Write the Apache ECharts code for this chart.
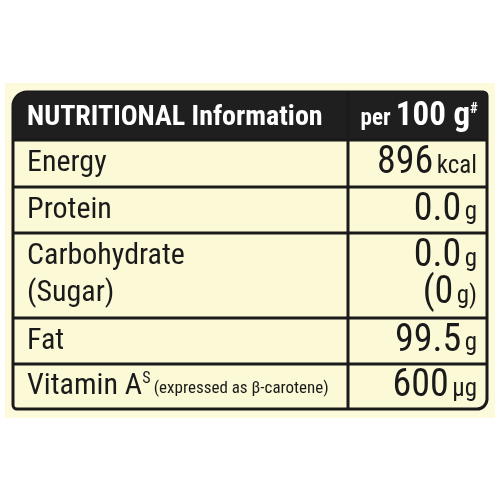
<!DOCTYPE html>
<html><head><meta charset="utf-8">
<script src="https://cdn.jsdelivr.net/npm/echarts@6/dist/echarts.min.js"></script>
<style>html,body{margin:0;background:#fff}#c{width:500px;height:500px}</style>
</head><body><div id="c"></div>
<script>
var headerLeft = 'NUTRITIONAL Information';
var headerRight = ['per ', '100 g', '#'];
var nutrients = [['Energy'], ['Protein'], ['Carbohydrate', '(Sugar)'], ['Fat'], ['Vitamin A']];
var amounts = [[['896', 'kcal']], [['0.0', 'g']], [['0.0', 'g'], ['(0', 'g)']], [['99.5', 'g']], [['600', 'µg']]];

var chart = echarts.init(document.getElementById('c'));
var F = '"Liberation Sans Narrow", "Roboto Condensed", Arial Narrow, sans-serif';
var L = 13, R = 487, T = 92, B = 409, D = 348;
var rowEdges = [140, 187, 233, 318, 364, 409];
var g = [];
g.push({type: 'rect', shape: {x: 5, y: 83, width: 490, height: 335}, style: {fill: '#fcfadb'}});
g.push({type: 'rect', shape: {x: L, y: T, width: R - L, height: B - T, r: [14, 4, 10, 4]}, style: {fill: '#fcf9d6', stroke: '#1a1a1a', lineWidth: 3}});
g.push({type: 'rect', shape: {x: L, y: T, width: R - L, height: rowEdges[0] - T, r: [14, 4, 0, 0]}, style: {fill: '#1f1f1f'}});
g.push({type: 'text', x: 27, y: 118, style: {text: headerLeft, font: 'bold 28px ' + F, fill: '#fff', verticalAlign: 'middle'}});
g.push({type: 'text', x: 478, y: 117, style: {
  text: '{a|' + headerRight[0] + '}{b|' + headerRight[1] + '}{s|' + headerRight[2] + '}',
  align: 'right', verticalAlign: 'middle',
  rich: {a: {font: 'bold 23px ' + F, fill: '#fff', padding: [4, 0, 0, 0]}, b: {font: 'bold 33px ' + F, fill: '#fff'}, s: {font: 'bold 15px ' + F, fill: '#fff', padding: [0, 0, 16, 0]}}
}});
g.push({type: 'line', shape: {x1: D, y1: T, x2: D, y2: B}, style: {stroke: '#1a1a1a', lineWidth: 3}});
for (var i = 0; i < rowEdges.length - 1; i++) {
  g.push({type: 'line', shape: {x1: L, y1: rowEdges[i], x2: R, y2: rowEdges[i]}, style: {stroke: '#1a1a1a', lineWidth: 3}});
  var rowTop = rowEdges[i], n = nutrients[i].length;
  var h = rowEdges[i + 1] - rowTop;
  for (var j = 0; j < n; j++) {
    var cy = n === 1 ? rowTop + h / 2 : rowTop + h * (0.28 + 0.43 * j);
    var txt = nutrients[i][j];
    if (i === 4) {
      g.push({type: 'text', x: 27, y: cy, style: {
        text: '{m|' + txt + '}{s|S} {e|(expressed as β-carotene)}', verticalAlign: 'middle',
        rich: {m: {font: '30px ' + F, fill: '#1a1a1a'}, s: {font: '16px ' + F, fill: '#1a1a1a', padding: [0, 0, 16, 0]}, e: {font: '17px ' + F, fill: '#1a1a1a', padding: [4, 0, 0, 0]}}
      }});
    } else {
      g.push({type: 'text', x: 27, y: cy, style: {text: txt, font: '30px ' + F, fill: '#1a1a1a', verticalAlign: 'middle'}});
    }
    var am = amounts[i][j];
    g.push({type: 'text', x: 477, y: cy, style: {
      text: '{n|' + am[0] + '} {u|' + am[1] + '}', align: 'right', verticalAlign: 'middle',
      rich: {n: {font: '38px ' + F, fill: '#1a1a1a'}, u: {font: '25px ' + F, fill: '#1a1a1a', padding: [6, 0, 0, 0]}}
    }});
  }
}
chart.setOption({backgroundColor: '#fff', graphic: g});
</script></body></html>
